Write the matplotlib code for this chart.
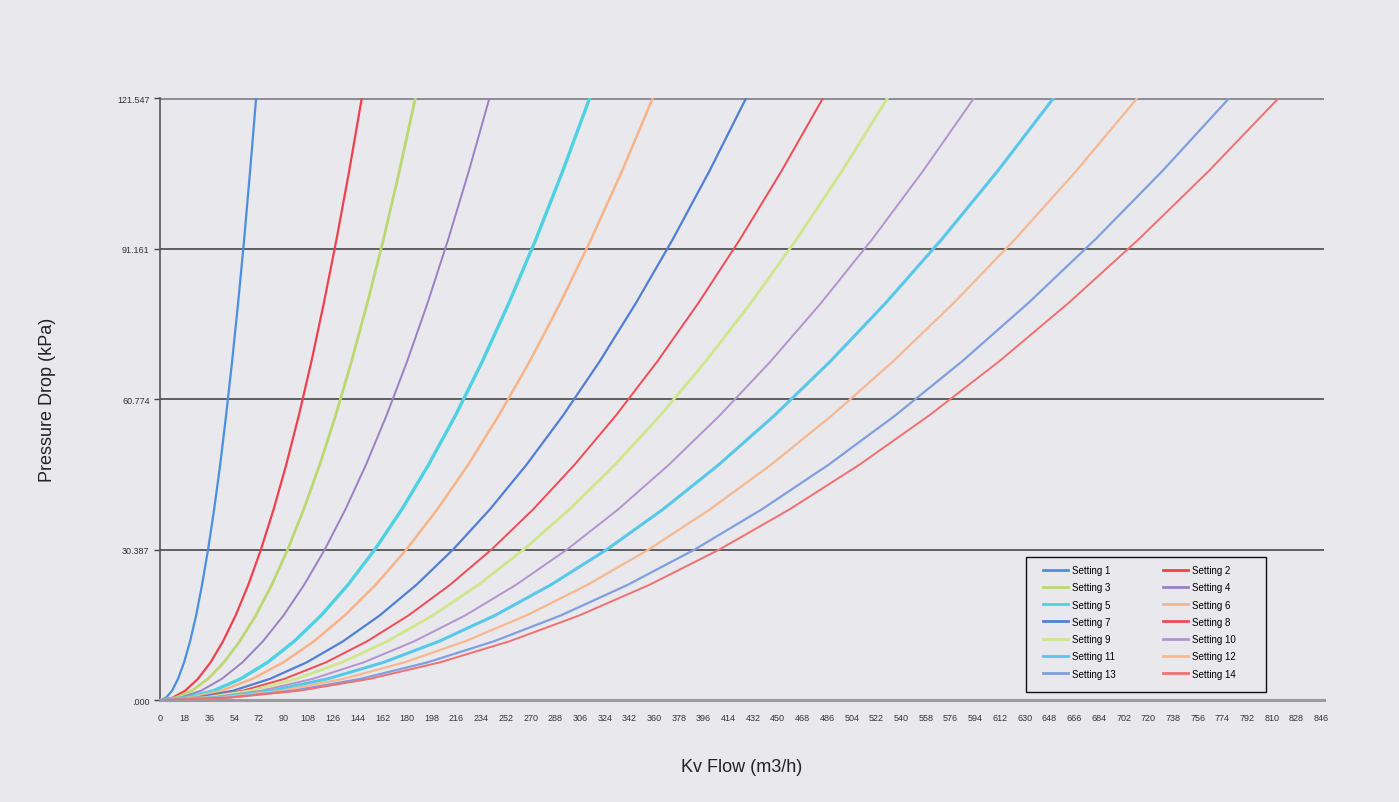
import numpy as np
import matplotlib.pyplot as plt
from matplotlib.lines import Line2D
from matplotlib.patches import Rectangle

plt.rcParams["font.family"] = ["Liberation Sans", "DejaVu Sans"]

# pressure levels (kPa) and the flow at those levels (m3/h)
pressure = [0, 0.475, 1.899, 4.273, 7.597, 11.870, 17.093, 23.266, 30.387,
            38.458, 47.479, 57.449, 68.370, 80.239, 93.059, 106.827, 121.547]

setting_1 = [0, 4.4, 8.8, 13.1, 17.5, 21.9, 26.3, 30.6, 35.0, 39.4, 43.8, 48.1, 52.5, 56.9, 61.3, 65.6, 70]
setting_2 = [0, 9.2, 18.4, 27.6, 36.8, 45.9, 55.1, 64.3, 73.5, 82.7, 91.9, 101.1, 110.3, 119.4, 128.6, 137.8, 147]
setting_3 = [0, 11.6, 23.3, 34.9, 46.5, 58.1, 69.8, 81.4, 93.0, 104.6, 116.3, 127.9, 139.5, 151.1, 162.8, 174.4, 186]
setting_4 = [0, 15.0, 30.0, 45.0, 60.0, 75.0, 90.0, 105.0, 120.0, 135.0, 150.0, 165.0, 180.0, 195.0, 210.0, 225.0, 240]
setting_5 = [0, 19.6, 39.1, 58.7, 78.3, 97.8, 117.4, 136.9, 156.5, 176.1, 195.6, 215.2, 234.8, 254.3, 273.9, 293.4, 313]
setting_6 = [0, 22.4, 44.9, 67.3, 89.8, 112.2, 134.6, 157.1, 179.5, 201.9, 224.4, 246.8, 269.3, 291.7, 314.1, 336.6, 359]
setting_7 = [0, 26.7, 53.4, 80.1, 106.8, 133.4, 160.1, 186.8, 213.5, 240.2, 266.9, 293.6, 320.3, 346.9, 373.6, 400.3, 427]
setting_8 = [0, 30.2, 60.4, 90.6, 120.8, 150.9, 181.1, 211.3, 241.5, 271.7, 301.9, 332.1, 362.3, 392.4, 422.6, 452.8, 483]
setting_9 = [0, 33.1, 66.3, 99.4, 132.5, 165.6, 198.8, 231.9, 265.0, 298.1, 331.3, 364.4, 397.5, 430.6, 463.8, 496.9, 530]
setting_10 = [0, 37.1, 74.1, 111.2, 148.3, 185.3, 222.4, 259.4, 296.5, 333.6, 370.6, 407.7, 444.8, 481.8, 518.9, 555.9, 593]
setting_11 = [0, 40.7, 81.4, 122.1, 162.8, 203.4, 244.1, 284.8, 325.5, 366.2, 406.9, 447.6, 488.3, 528.9, 569.6, 610.3, 651]
setting_12 = [0, 44.5, 89.0, 133.5, 178.0, 222.5, 267.0, 311.5, 356.0, 400.5, 445.0, 489.5, 534.0, 578.5, 623.0, 667.5, 712]
setting_13 = [0, 48.7, 97.4, 146.1, 194.8, 243.4, 292.1, 340.8, 389.5, 438.2, 486.9, 535.6, 584.3, 632.9, 681.6, 730.3, 779]
setting_14 = [0, 50.9, 101.9, 152.8, 203.8, 254.7, 305.6, 356.6, 407.5, 458.4, 509.4, 560.3, 611.3, 662.2, 713.1, 764.1, 815]

flows = [setting_1, setting_2, setting_3, setting_4, setting_5, setting_6, setting_7,
         setting_8, setting_9, setting_10, setting_11, setting_12, setting_13, setting_14]
names = ["Setting %d" % (i + 1) for i in range(14)]

y_ticks = [0, 30.387, 60.774, 91.161, 121.547]
y_labels = [".000", "30.387", "60.774", "91.161", "121.547"]
x_ticks = list(range(0, 847, 18))

colors = ["#4a8fe0", "#f0404e", "#bcd870", "#9a80c4", "#4cd2e2", "#f8b486",
          "#4f7fd6", "#f24a55", "#cfe68a", "#b493d0", "#58c8ea", "#f7b890",
          "#7f9fe0", "#f07070"]
widths = [1.6, 1.6, 2.0, 1.4, 2.4, 1.8, 1.6, 1.4, 2.0, 1.4, 2.2, 1.6, 1.6, 1.4]

bg = "#e9e8ed"
fig = plt.figure(figsize=(13.99, 8.03), dpi=100, facecolor=bg)
ax = fig.add_axes([0.1144, 0.127, 0.832, 0.7497])
ax.set_facecolor(bg)

for q, c, w in zip(flows, colors, widths):
    ax.plot(q, pressure, color=c, linewidth=w, zorder=3)

ax.set_xlim(0, 848)
ax.set_ylim(0, 121.547)
ax.set_yticks(y_ticks)
ax.set_yticklabels(y_labels)
ax.set_xticks(x_ticks)
ax.tick_params(axis="x", length=0, pad=9, labelsize=6.5, labelcolor="#333333")
ax.tick_params(axis="y", length=4, width=1, color="#444444", labelsize=6.5, labelcolor="#333333")

for y in y_ticks[1:4]:
    ax.axhline(y, color="#3a3a3a", linewidth=1.1, zorder=1)
ax.axhline(121.547, color="#8e8e96", linewidth=2.2, zorder=2)

for s in ["top", "right"]:
    ax.spines[s].set_visible(False)
ax.spines["left"].set_color("#555555")
ax.spines["left"].set_linewidth(1.2)
ax.spines["bottom"].set_color("#9a9aa0")
ax.spines["bottom"].set_linewidth(2.2)

ax.set_ylabel("Pressure Drop (kPa)", fontsize=13, labelpad=44, color="#222222")
ax.set_xlabel("Kv Flow (m3/h)", fontsize=13, labelpad=26, color="#222222")

# legend box drawn separately so its padding matches the original
ax.add_patch(Rectangle((0.744, 0.0133), 0.206, 0.224, transform=ax.transAxes,
                       facecolor=bg, edgecolor="#111111", linewidth=1.0, zorder=4))

# legend filled column by column: odd settings left, even settings right
order = list(range(0, 14, 2)) + list(range(1, 14, 2))
handles = [Line2D([], [], color=colors[i], linewidth=2) for i in order]
labels = [names[i] for i in order]
leg = ax.legend(handles, labels, ncol=2, loc="upper left", bbox_to_anchor=(0.7586, 0.2243),
                borderaxespad=0, borderpad=0, fontsize=7, frameon=False, handlelength=2.6,
                columnspacing=4.8, labelspacing=0.75, handletextpad=0.4)
leg.set_zorder(5)

fig.savefig("out.png", dpi=100, facecolor=bg)
